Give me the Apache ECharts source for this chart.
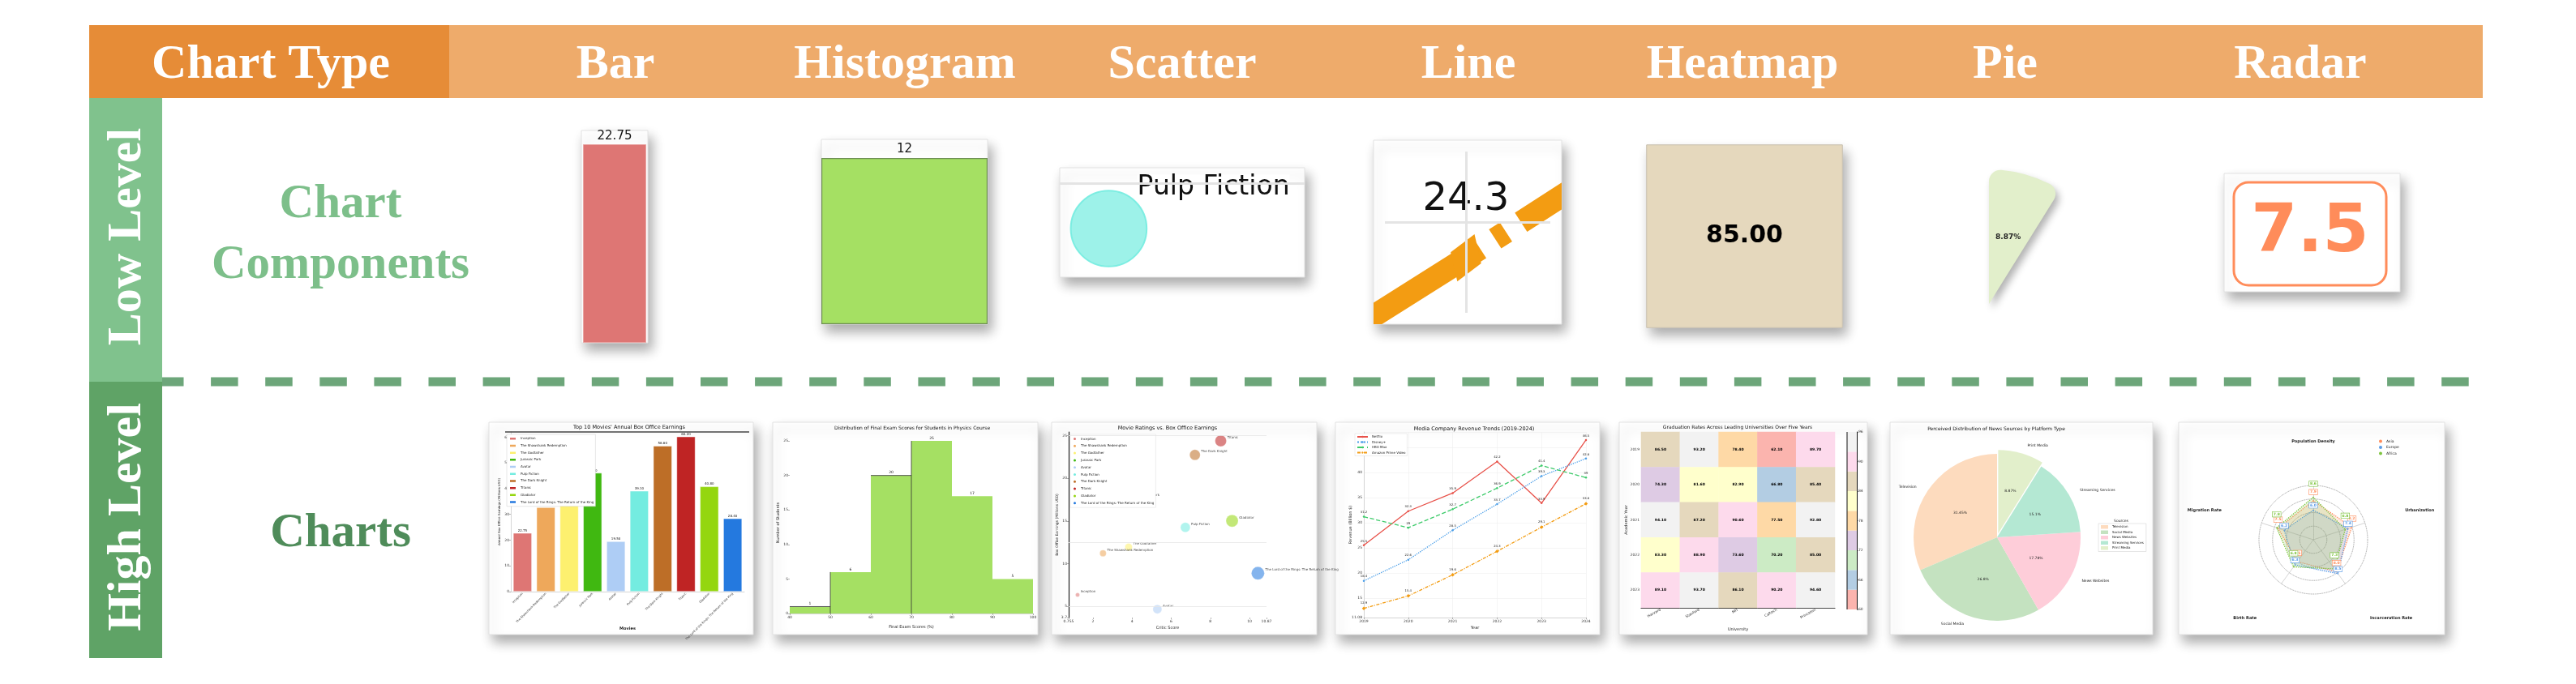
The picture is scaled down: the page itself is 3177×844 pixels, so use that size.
<!DOCTYPE html>
<html><head><meta charset="utf-8">
<script src="https://cdn.jsdelivr.net/npm/echarts@6/dist/echarts.min.js"></script>
<style>html,body{margin:0;padding:0;background:#fff}#c{width:3177px;height:844px}</style>
</head><body><div id="c"></div><script>
// ================= DATA =================
const headerFirst = 'Chart Type';
const chartTypes = ['Bar', 'Histogram', 'Scatter', 'Line', 'Heatmap', 'Pie', 'Radar'];
const rowLevels = ['Low Level', 'High Level'];
const rowTitles = ['Chart\nComponents', 'Charts'];

const movies = ['Inception', 'The Shawshank Redemption', 'The Godfather', 'Jurassic Park', 'Avatar',
  'Pulp Fiction', 'The Dark Knight', 'Titanic', 'Gladiator', 'The Lord of the Rings: The Return of the King'];
const boxOffice = [22.75, 32.70, 34.30, 46.10, 19.50, 39.10, 56.60, 60.20, 40.80, 28.40];
const barTitle = "Top 10 Movies' Annual Box Office Earnings";

const histEdges = [40, 50, 60, 70, 80, 90, 100];
const histCounts = [1, 6, 20, 25, 17, 5];
const histComponentCount = [12];
const histTitle = 'Distribution of Final Exam Scores for Students in Physics Course';

const scatterX = [1.21, 2.51, 3.82, 4.10, 5.29, 6.72, 7.21, 8.53, 9.11, 10.43];
const scatterY = [6.36, 11.23, 11.96, 17.66, 4.68, 14.27, 22.75, 24.40, 15.03, 8.89];
const scatterSize = [5, 8, 9, 10, 11, 12, 13, 14, 15, 16];
const scatterTitle = 'Movie Ratings vs. Box Office Earnings';
const scatterGridLines = [5, 12.5, 25];

const years = ['2019', '2020', '2021', '2022', '2023', '2024'];
const lineNames = ['Netflix', 'Disney+', 'HBO Max', 'Amazon Prime Video'];
const revNetflix = [25.5, 32.3, 35.9, 42.2, 33.9, 46.5];
const revDisney = [18.4, 22.6, 28.5, 33.7, 39.3, 42.8];
const revHBO = [31.2, 29.0, 32.7, 36.9, 41.4, 39.0];
const revAmazon = [12.9, 15.4, 19.6, 24.3, 29.1, 33.8];
const lineTitle = 'Media Company Revenue Trends (2019-2024)';

const universities = ['Harvard', 'Stanford', 'MIT', 'Caltech', 'Princeton'];
const heatYears = ['2019', '2020', '2021', '2022', '2023'];
const heatRow2019 = [86.50, 93.20, 78.40, 62.10, 89.70];
const heatRow2020 = [74.30, 81.60, 82.90, 66.80, 85.40];
const heatRow2021 = [94.10, 87.20, 90.60, 77.50, 92.80];
const heatRow2022 = [83.30, 88.90, 73.60, 70.20, 85.00];
const heatRow2023 = [89.10, 93.70, 86.10, 90.20, 94.60];
const heatBins = [60, 64, 68, 72, 76, 80, 84, 88, 92, 96];
const heatTitle = 'Graduation Rates Across Leading Universities Over Five Years';

const pieNames = ['Television', 'Social Media', 'News Websites', 'Streaming Services', 'Print Media'];
const pieShares = [31.45, 26.80, 17.78, 15.10, 8.87];
const pieTitle = 'Perceived Distribution of News Sources by Platform Type';
const pieLegendTitle = 'Sources';

const radarIndicators = ['Population Density', 'Migration Rate', 'Birth Rate', 'Incarceration Rate', 'Urbanization'];
const radarNames = ['Asia', 'Europe', 'Africa'];
const radarAsia = [7.9, 7.5, 5.5, 8.0, 8.2];
const radarEurope = [6.0, 6.2, 6.3, 8.5, 7.4];
const radarAfrica = [8.6, 7.8, 6.8, 7.3, 6.8];
const radarMax = 11;

// ================= STYLE =================
const FONT = 'DejaVu Sans';
const SERIF = 'Liberation Serif';
const movieColors = ['#DE7674', '#EEA85B', '#FDF06F', '#40B811', '#AECDF5', '#74ECE0', '#BD6E27', '#BF2424', '#94D60F', '#2479DF'];
const lineColors = ['#E8524A', '#4A9EE8', '#3DCB6A', '#F39C12'];
const pastel1 = ['#FBB4AE', '#B3CDE3', '#CCEBC5', '#DECBE4', '#FED9A6', '#FFFFCC', '#E5D8BD', '#FDDAEC', '#F2F2F2'];
const pieColors = ['#FDDBBE', '#C4E2C0', '#FECDD9', '#B4E8D3', '#E2EFCB'];
const radarColors = ['#FF8C5A', '#5B9BE6', '#7DC43E'];
function rgba(hex, a) {
  const n = parseInt(hex.slice(1), 16);
  return 'rgba(' + (n >> 16 & 255) + ',' + (n >> 8 & 255) + ',' + (n & 255) + ',' + a + ')';
}

const grid = [], xAxis = [], yAxis = [], series = [], legend = [], graphic = [], visualMap = [], radar = [];
function cart(g, xa, ya) {
  grid.push(g); const gi = grid.length - 1;
  xa.gridIndex = gi; ya.gridIndex = gi;
  xa.nameMoveOverlap = false; ya.nameMoveOverlap = false;
  xAxis.push(xa); yAxis.push(ya);
  return { xAxisIndex: xAxis.length - 1, yAxisIndex: yAxis.length - 1 };
}
function rectG(x, y, w, h, style, z, r) {
  graphic.push({ type: 'rect', silent: true, z: z, shape: { x: x, y: y, width: w, height: h, r: r || 0 }, style: style });
}
function textG(x, y, t, style, extra) {
  graphic.push(Object.assign({ type: 'text', silent: true, z: 20, x: x, y: y, style: Object.assign({ text: t }, style) }, extra || {}));
}
const shadow = { shadowBlur: 14, shadowColor: 'rgba(0,0,0,0.33)', shadowOffsetX: 5, shadowOffsetY: 9 };
function card(x, y, w, h, fill) {
  rectG(x, y, w, h, Object.assign({ fill: fill || '#fff', stroke: '#e2e2e2', lineWidth: 1 }, shadow), -1);
}
const tinyLabel = { fontSize: 4.5, color: '#333', margin: 2, fontFamily: FONT };
const tinyTick = { length: 2, lineStyle: { color: '#666', width: 0.5 } };
const tinyName = { fontSize: 5, color: '#222', fontFamily: FONT };

// ================= FRAME =================
rectG(110, 31, 444, 90, { fill: '#E68C37' }, 5);
rectG(554, 31, 2508, 90, { fill: '#EEAB6B' }, 5);
const headFont = { fill: '#fff', fontSize: 60, fontWeight: 'bold', fontFamily: SERIF, align: 'center', verticalAlign: 'middle' };
textG(334, 80, headerFirst, headFont);
const colCenters = [759, 1116, 1458, 1811, 2149, 2473, 2837];
chartTypes.forEach((t, i) => textG(colCenters[i], 80, t, headFont));

graphic.push({ type: 'line', silent: true, z: 0, shape: { x1: 193, y1: 471, x2: 3046, y2: 471 },
  style: { stroke: '#6DA67A', lineWidth: 11, lineDash: [33.5, 33.6] } });
rectG(110, 121, 90, 350, { fill: '#80C28D' }, 5);
rectG(110, 471, 90, 341, { fill: '#5FA366' }, 5);
const sideFont = { fill: '#fff', fontSize: 60, fontWeight: 'bold', fontFamily: SERIF, align: 'center', verticalAlign: 'middle' };
textG(157, 292, rowLevels[0], sideFont, { rotation: Math.PI / 2 });
textG(157, 638, rowLevels[1], sideFont, { rotation: Math.PI / 2 });
textG(420, 290, rowTitles[0], { fill: '#7DBF8A', fontSize: 59, fontWeight: 'bold', fontFamily: SERIF, align: 'center', verticalAlign: 'middle', lineHeight: 75 });
textG(420, 659, rowTitles[1], { fill: '#4F8C5A', fontSize: 59, fontWeight: 'bold', fontFamily: SERIF, align: 'center', verticalAlign: 'middle' });

// ================= LOW LEVEL =================
// Bar component
card(717, 161, 82, 262);
let ax = cart({ left: 719, top: 178, width: 78, height: 245 },
  { type: 'category', show: false, data: [movies[0]] },
  { type: 'value', show: false, min: 0, max: boxOffice[0] });
series.push(Object.assign({ type: 'bar', data: [boxOffice[0]], barWidth: '100%', silent: true,
  itemStyle: { color: movieColors[0], borderColor: '#e9a5a3', borderWidth: 1 },
  label: { show: true, position: 'top', distance: 2, fontSize: 15, color: '#111', formatter: p => p.value.toFixed(2) } }, ax));

// Histogram component
card(1013, 172, 205, 228);
ax = cart({ left: 1013, top: 195, width: 205, height: 205 },
  { type: 'category', show: false, data: [''] },
  { type: 'value', show: false, min: 0, max: histComponentCount[0] });
series.push(Object.assign({ type: 'bar', data: [histComponentCount[0]], barWidth: '100%', silent: true,
  itemStyle: { color: '#A5E063', borderColor: '#6f8f55', borderWidth: 1.2 },
  label: { show: true, position: 'top', distance: 3, fontSize: 15, color: '#111' } }, ax));

// Scatter component (zoom on Pulp Fiction)
card(1307, 207, 302, 135);
const pfI = 5, sW = 1.5, sH = 1.76;
const sxMin = scatterX[pfI] - 0.2 * sW, syMin = scatterY[pfI] - 0.444 * sH;
ax = cart({ left: 1307, top: 207, width: 302, height: 135 },
  { type: 'value', show: false, min: sxMin, max: sxMin + sW },
  { type: 'value', show: false, min: syMin, max: syMin + sH });
series.push(Object.assign({ type: 'scatter', silent: true, data: [[scatterX[pfI], scatterY[pfI], scatterSize[pfI]]],
  symbolSize: d => d[2] * 7.8,
  itemStyle: { color: rgba(movieColors[pfI], 0.7), borderColor: rgba(movieColors[pfI], 0.9), borderWidth: 2, opacity: 1 },
  label: { show: true, formatter: movies[pfI], position: [83, -19], fontSize: 33, color: '#111', fontFamily: FONT, backgroundColor: '#fff' },
  markLine: { silent: true, symbol: 'none', label: { show: false }, lineStyle: { color: '#e4e4e4', width: 3, type: 'solid' },
    data: [{ yAxis: 15 }] } }, ax));

// Line component (zoom on 2022 point of Amazon)
card(1694, 173, 232, 227);
const lW = 0.5, lH = 3.64, lI = 3, lInset = 14;
const lxMin = Number(years[lI]) - 0.491 * lW, lyMin = revAmazon[lI] - 0.361 * lH;
// grid inset by half the stroke width so the thick line is clipped exactly at the card edge
ax = cart({ left: 1694 + lInset, top: 173 + lInset, width: 232 - 2 * lInset, height: 227 - 2 * lInset },
  { type: 'value', show: false, min: lxMin + lInset / 232 * lW, max: lxMin + (232 - lInset) / 232 * lW },
  { type: 'value', show: false, min: lyMin + lInset / 227 * lH, max: lyMin + (227 - lInset) / 227 * lH });
series.push(Object.assign({ type: 'line', silent: true, clip: true,
  data: years.map((y, i) => [Number(y), revAmazon[i]]),
  lineStyle: { color: lineColors[3], width: 28, type: [200, 22, 16, 22], dashOffset: 168, cap: 'butt' },
  itemStyle: { color: lineColors[3] }, symbol: 'diamond', symbolSize: [40, 62], symbolRotate: -20,
  label: { show: true, position: 'top', distance: 12, fontSize: 48, color: '#111', fontFamily: FONT, formatter: p => p.value[1].toFixed(1) },
  markLine: { silent: true, symbol: 'none', label: { show: false }, lineStyle: { color: '#e4e4e4', width: 3, type: 'solid' },
    data: [{ xAxis: Number(years[lI]) }, { yAxis: 25 }] } }, ax));

// Heatmap component
card(2031, 179, 241, 225, pastel1[6]);
ax = cart({ left: 2031, top: 179, width: 241, height: 225 },
  { type: 'category', show: false, data: [universities[4]] },
  { type: 'category', show: false, data: [heatYears[3]] });
const lowHeatIdx = series.length;
series.push(Object.assign({ type: 'heatmap', silent: true, data: [[0, 0, heatRow2022[4]]],
  itemStyle: { borderColor: '#c8c0b0', borderWidth: 1 },
  label: { show: true, fontSize: 30, fontWeight: 'bold', color: '#000', fontFamily: FONT, formatter: p => p.value[2].toFixed(2) } }, ax));

// Radar component
card(2743, 214, 217, 146);
rectG(2755, 225, 188, 127, { fill: '#fff', stroke: radarColors[0], lineWidth: 3 }, 1, 18);
textG(2849, 289, radarAsia[1].toFixed(1), { fill: radarColors[0], fontSize: 82, fontWeight: 'bold', fontFamily: FONT, align: 'center', verticalAlign: 'middle' });

// ================= HIGH LEVEL =================
// --- Bar chart ---
card(603, 521, 326, 262);
textG(776, 527, barTitle, { fill: '#111', fontSize: 6.5, fontFamily: FONT, align: 'center', verticalAlign: 'middle' });
graphic.push({ type: 'line', silent: true, z: 3, shape: { x1: 623, y1: 533, x2: 924, y2: 533 }, style: { stroke: '#444', lineWidth: 1.5 } });
ax = cart({ left: 630, top: 533, width: 288, height: 197 },
  { type: 'category', data: movies, axisLabel: Object.assign({}, tinyLabel, { rotate: 45, interval: 0, fontSize: 3.6 }),
    axisTick: tinyTick, axisLine: { lineStyle: { color: '#ccc', width: 0.8 } },
    name: 'Movies', nameLocation: 'middle', nameGap: 43, nameTextStyle: Object.assign({}, tinyName, { fontWeight: 'bold' }) },
  { type: 'value', min: 0, max: 62, interval: 10, axisLabel: Object.assign({}, tinyLabel, { showMaxLabel: false }),
    axisTick: { show: true, length: 2, lineStyle: { color: '#666', width: 0.5 } }, axisLine: { show: true, lineStyle: { color: '#ccc', width: 0.8 } },
    splitLine: { show: false }, name: 'Annual Box Office Earnings (Millions USD)', nameLocation: 'middle', nameGap: 12, nameTextStyle: Object.assign({}, tinyName, { fontSize: 4 }) });
movies.forEach((m, i) => {
  series.push(Object.assign({ type: 'bar', name: m, barWidth: 23, barGap: '-100%',
    data: movies.map((_, j) => j === i ? boxOffice[i] : null),
    itemStyle: { color: movieColors[i], borderColor: '#fff', borderWidth: 0.5 },
    label: { show: true, position: 'top', distance: 1, fontSize: 4, color: '#111', formatter: p => p.value.toFixed(2) } }, ax));
});
legend.push({ data: movies, orient: 'vertical', left: 625, top: 536, itemWidth: 9, itemHeight: 4.5, itemGap: 2.2, icon: 'rect',
  padding: 2, textStyle: { fontSize: 4, color: '#222', fontFamily: FONT }, backgroundColor: '#fff', borderColor: '#ccc', borderWidth: 0.5 });

// --- Histogram ---
card(953, 521, 327, 262);
textG(1125, 528, histTitle, { fill: '#111', fontSize: 6, fontFamily: FONT, align: 'center', verticalAlign: 'middle' });
ax = cart({ left: 974, top: 533, width: 300, height: 224 },
  { type: 'value', min: histEdges[0], max: histEdges[histEdges.length - 1], interval: 10, axisLabel: tinyLabel, axisTick: tinyTick,
    axisLine: { lineStyle: { color: '#ccc', width: 0.8 } }, splitLine: { show: false },
    name: 'Final Exam Scores (%)', nameLocation: 'middle', nameGap: 14, nameTextStyle: tinyName },
  { type: 'value', min: 0, max: 26.3, interval: 5, axisLabel: Object.assign({}, tinyLabel, { showMaxLabel: false }),
    axisTick: { show: true, length: 2, lineStyle: { color: '#666', width: 0.5 } }, axisLine: { show: false }, splitLine: { show: false },
    name: 'Number of Students', nameLocation: 'middle', nameGap: 12, nameTextStyle: tinyName });
series.push(Object.assign({ type: 'custom', silent: true,
  data: histCounts.map((c, i) => [histEdges[i], histEdges[i + 1], c]),
  encode: { x: [0, 1], y: 2 },
  renderItem: function (params, api) {
    const i = params.dataIndex;
    const p0 = api.coord([api.value(0), api.value(2)]);
    const p1 = api.coord([api.value(1), 0]);
    const kids = [{ type: 'rect', shape: { x: p0[0], y: p0[1], width: p1[0] - p0[0], height: p1[1] - p0[1] }, style: { fill: '#A5E063' } }];
    if (i === 1 || i === 3) kids.push({ type: 'line', shape: { x1: p0[0], y1: p0[1], x2: p0[0], y2: p1[1] }, style: { stroke: '#333', lineWidth: 0.8 } });
    if (i === 0 || i === 2) kids.push({ type: 'line', shape: { x1: p0[0], y1: p0[1], x2: p1[0], y2: p0[1] }, style: { stroke: '#555', lineWidth: 1 } });
    kids.push({ type: 'text', x: (p0[0] + p1[0]) / 2, y: p0[1] - 1, style: { text: String(api.value(2)), fontSize: 4.5, fill: '#111', align: 'center', verticalAlign: 'bottom', fontFamily: FONT } });
    return { type: 'group', children: kids };
  } }, ax));

// --- Scatter ---
card(1297, 521, 327, 262);
textG(1440, 528, scatterTitle, { fill: '#111', fontSize: 6.5, fontFamily: FONT, align: 'center', verticalAlign: 'middle' });
ax = cart({ left: 1318, top: 533, width: 244, height: 229 },
  { type: 'value', min: 0.755, max: 10.87, axisLabel: tinyLabel, axisTick: tinyTick, axisLine: { show: false }, splitLine: { show: false },
    name: 'Critic Score', nameLocation: 'middle', nameGap: 10, nameTextStyle: tinyName },
  { type: 'value', min: 3.7, max: 25.44, axisLabel: Object.assign({}, tinyLabel, { showMaxLabel: false }), axisTick: tinyTick,
    axisLine: { show: true, lineStyle: { color: '#222', width: 1.2 } }, splitLine: { show: false },
    name: 'Box Office Earnings (Millions USD)', nameLocation: 'middle', nameGap: 12, nameTextStyle: Object.assign({}, tinyName, { fontSize: 4.5 }) });
movies.forEach((m, i) => {
  const s = { type: 'scatter', name: m, data: [[scatterX[i], scatterY[i], scatterSize[i]]], symbolSize: d => d[2],
    itemStyle: { color: rgba(movieColors[i], 0.7), borderColor: '#fff', borderWidth: 0.3 },
    label: { show: true, formatter: m, position: 'right', distance: 1, offset: [0, -4], fontSize: 4, color: '#111', fontFamily: FONT } };
  if (i === 0) s.markLine = { silent: true, symbol: 'none', label: { show: false }, lineStyle: { color: '#e6e6e6', width: 0.8, type: 'solid' },
    data: scatterGridLines.map(v => ({ yAxis: v })) };
  series.push(Object.assign(s, ax));
});
legend.push({ data: movies, orient: 'vertical', left: 1320, top: 536, itemWidth: 5, itemHeight: 5, itemGap: 1.8, icon: 'circle',
  padding: 2, textStyle: { fontSize: 4, color: '#222', fontFamily: FONT }, backgroundColor: '#fff', borderColor: '#ddd', borderWidth: 0.5 });

// --- Line ---
card(1647, 521, 326, 262);
textG(1818, 529, lineTitle, { fill: '#111', fontSize: 6.5, fontFamily: FONT, align: 'center', verticalAlign: 'middle' });
ax = cart({ left: 1682, top: 533, width: 274, height: 229 },
  { type: 'category', data: years, boundaryGap: false, axisLabel: tinyLabel, axisTick: tinyTick,
    axisLine: { lineStyle: { color: '#ccc', width: 0.8 } }, splitLine: { show: true, lineStyle: { color: '#eee', width: 0.6 } },
    name: 'Year', nameLocation: 'middle', nameGap: 10, nameTextStyle: tinyName },
  { type: 'value', min: 11.08, max: 48.1, splitNumber: 8, axisLabel: Object.assign({}, tinyLabel, { showMaxLabel: false }), axisTick: tinyTick,
    axisLine: { show: true, lineStyle: { color: '#ccc', width: 0.8 } }, splitLine: { show: true, lineStyle: { color: '#eee', width: 0.6 } },
    name: 'Revenue (Billion $)', nameLocation: 'middle', nameGap: 14, nameTextStyle: tinyName });
const lineData = [revNetflix, revDisney, revHBO, revAmazon];
const lineTypes = ['solid', 'dotted', 'dashed', [4, 1.5, 1, 1.5]];
const lineSymbols = ['circle', 'circle', 'circle', 'diamond'];
lineNames.forEach((n, i) => {
  series.push(Object.assign({ type: 'line', name: n, data: lineData[i], symbol: lineSymbols[i], symbolSize: i === 3 ? 4.5 : 2.5,
    lineStyle: { color: lineColors[i], width: 1.3, type: lineTypes[i] }, itemStyle: { color: lineColors[i] },
    label: { show: true, position: 'top', distance: 2, fontSize: 3.8, color: '#222', fontFamily: FONT } }, ax));
});
legend.push({ data: lineNames, orient: 'vertical', left: 1671, top: 535, itemWidth: 13, itemHeight: 3, itemGap: 2.5,
  padding: 2, textStyle: { fontSize: 4, color: '#222', fontFamily: FONT }, backgroundColor: '#fff', borderColor: '#ddd', borderWidth: 0.5 });

// --- Heatmap ---
card(1997, 521, 306, 262);
textG(2143, 527, heatTitle, { fill: '#111', fontSize: 6, fontFamily: FONT, align: 'center', verticalAlign: 'middle' });
ax = cart({ left: 2024, top: 533, width: 239, height: 217 },
  { type: 'category', data: universities, axisLabel: Object.assign({}, tinyLabel, { rotate: 30, interval: 0 }), axisTick: tinyTick,
    axisLine: { lineStyle: { color: '#111', width: 1 } }, splitArea: { show: false },
    name: 'University', nameLocation: 'middle', nameGap: 24, nameTextStyle: tinyName },
  { type: 'category', data: heatYears, inverse: true, axisLabel: tinyLabel, axisTick: tinyTick,
    axisLine: { show: false }, splitArea: { show: false },
    name: 'Academic Year', nameLocation: 'middle', nameGap: 16, nameTextStyle: tinyName });
const heatRows = [heatRow2019, heatRow2020, heatRow2021, heatRow2022, heatRow2023];
const highHeatIdx = series.length;
const heatData = [];
heatRows.forEach((row, r) => row.forEach((v, c) => heatData.push([c, r, v])));
series.push(Object.assign({ type: 'heatmap', silent: true, data: heatData,
  label: { show: true, fontSize: 4.5, fontWeight: 'bold', color: '#000', fontFamily: FONT, formatter: p => p.value[2].toFixed(2) } }, ax));
visualMap.push({ type: 'piecewise', show: false, seriesIndex: [lowHeatIdx, highHeatIdx], dimension: 2,
  pieces: heatBins.slice(0, -1).map((b, k) => ({ gte: b, lt: heatBins[k + 1], color: pastel1[k] })) });
ax = cart({ left: 2278, top: 533, width: 12, height: 219 },
  { type: 'category', show: false, data: [''] },
  { type: 'value', position: 'right', min: heatBins[0], max: heatBins[heatBins.length - 1], interval: 6,
    axisLabel: tinyLabel, axisTick: { show: true, length: 2, lineStyle: { color: '#333', width: 0.5 } },
    axisLine: { show: true, lineStyle: { color: '#111', width: 1 } }, splitLine: { show: false } });
series.push(Object.assign({ type: 'custom', silent: true,
  data: heatBins.slice(0, -1).map((b, k) => [0, b, heatBins[k + 1]]),
  encode: { x: 0, y: [1, 2] },
  renderItem: function (params, api) {
    const top = api.coord([0, api.value(2)]), bot = api.coord([0, api.value(1)]);
    const w = api.size([1, 0])[0];
    return { type: 'rect', shape: { x: top[0] - w / 2, y: top[1], width: w, height: bot[1] - top[1] }, style: { fill: pastel1[params.dataIndex] } };
  } }, ax));
graphic.push({ type: 'line', silent: true, z: 3, shape: { x1: 2278, y1: 533, x2: 2278, y2: 752 }, style: { stroke: '#111', lineWidth: 1 } });

// --- Pie ---
card(2331, 521, 324, 262);
textG(2462, 529, pieTitle, { fill: '#111', fontSize: 6, fontFamily: FONT, align: 'center', verticalAlign: 'middle' });
const pieItems = (fill) => pieShares.map((v, i) => ({ name: pieNames[i], value: v, selected: i === 4,
  itemStyle: { color: fill ? pieColors[i] : 'rgba(0,0,0,0)' } }));
series.push({ type: 'pie', center: [2463, 663], radius: 103, startAngle: 90, clockwise: false, selectedMode: 'single', selectedOffset: 5,
  data: pieItems(true), silent: true, emphasis: { disabled: true },
  label: { show: true, position: 'inside', formatter: '{d}%', fontSize: 4.5, color: '#222', fontFamily: FONT }, labelLine: { show: false } });
series.push({ type: 'pie', center: [2463, 663], radius: 103, startAngle: 90, clockwise: false, selectedMode: 'single', selectedOffset: 5,
  data: pieItems(false), silent: true, emphasis: { disabled: true },
  label: { show: true, position: 'outside', formatter: '{b}', fontSize: 4.5, color: '#222', fontFamily: FONT },
  labelLine: { show: false, length: 10, length2: 0 } });
legend.push({ data: pieNames, orient: 'vertical', left: 2588, top: 646, itemWidth: 9, itemHeight: 4.5, itemGap: 2, icon: 'rect',
  padding: [2, 3], textStyle: { fontSize: 4, color: '#222', fontFamily: FONT }, backgroundColor: '#fff', borderColor: '#ccc', borderWidth: 0.5 });
textG(2616, 643, pieLegendTitle, { fill: '#222', fontSize: 4.5, fontFamily: FONT, align: 'center', verticalAlign: 'middle' }, { z: 30 });
// low-level pie slice (component)
series.push({ type: 'pie', center: [2453, 375], radius: 166, startAngle: 90, clockwise: false, silent: true, emphasis: { disabled: true },
  data: pieShares.map((v, i) => ({ value: v,
    itemStyle: i === 4 ? Object.assign({ color: pieColors[4], borderRadius: [0, 14] }, { shadowBlur: 10, shadowColor: 'rgba(0,0,0,0.3)', shadowOffsetX: 4, shadowOffsetY: 6 }) : { color: 'rgba(0,0,0,0)' },
    label: { show: i === 4 } })),
  label: { position: 'inside', formatter: '{d}%', fontSize: 9, fontWeight: 'bold', color: '#222', fontFamily: FONT }, labelLine: { show: false } });

// --- Radar ---
card(2687, 521, 328, 262);
radar.push({ center: [2853, 666], radius: 67, startAngle: 90, splitNumber: 4, shape: 'circle', nameGap: 52,
  indicator: radarIndicators.map(n => ({ name: n, max: radarMax })),
  axisName: { color: '#222', fontSize: 5, fontWeight: 'bold', fontFamily: FONT },
  splitLine: { lineStyle: { color: '#777', type: 'dotted', width: 0.8 } }, splitArea: { show: false },
  axisLine: { lineStyle: { color: '#bbb', type: 'dotted', width: 0.6 } } });
const radarVals = [radarAsia, radarEurope, radarAfrica];
const radarDist = [7, 2, 13];
series.push({ type: 'radar', radarIndex: 0, symbol: 'circle', symbolSize: 1.5,
  data: radarNames.map((n, i) => ({ name: n, value: radarVals[i],
    itemStyle: { color: radarColors[i] },
    lineStyle: { color: radarColors[i], width: 1.3, type: 'dotted' },
    areaStyle: { color: rgba(radarColors[i], 0.25) },
    label: { show: true, position: 'top', distance: radarDist[i], formatter: p => Number(p.value).toFixed(1), fontSize: 4.5, fontWeight: 'bold',
      color: radarColors[i], backgroundColor: '#fff', borderColor: radarColors[i], borderWidth: 0.6, padding: [0.5, 1], fontFamily: FONT } })) });
legend.push({ data: radarNames, orient: 'vertical', left: 2933, top: 541, itemWidth: 4, itemHeight: 4, itemGap: 2.5, icon: 'circle',
  padding: 1, textStyle: { fontSize: 4.5, color: '#222', fontFamily: FONT } });

// ================= RENDER =================
const chart = echarts.init(document.getElementById('c'), null, { renderer: 'canvas', width: 3177, height: 844 });
chart.setOption({
  animation: false, backgroundColor: '#ffffff', textStyle: { fontFamily: FONT },
  grid: grid, xAxis: xAxis, yAxis: yAxis, series: series, legend: legend, visualMap: visualMap, radar: radar, graphic: graphic
});
</script></body></html>
